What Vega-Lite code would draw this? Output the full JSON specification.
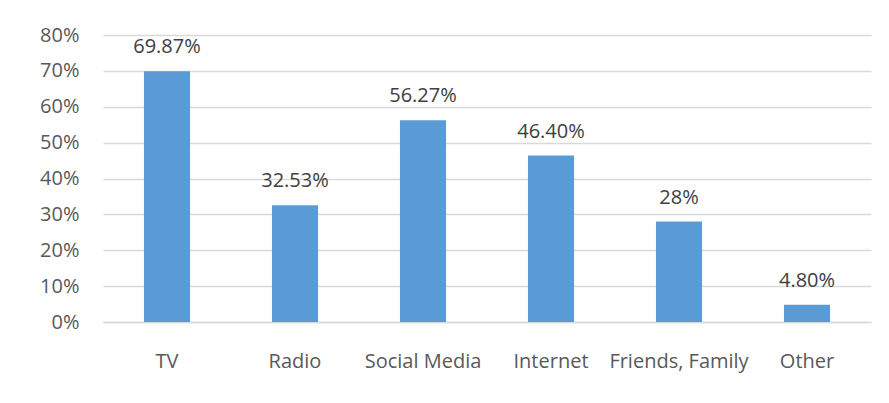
{
  "$schema": "https://vega.github.io/schema/vega-lite/v6.json",
  "width": 768,
  "height": 287,
  "autosize": {"type": "none"},
  "padding": {"left": 103, "top": 35, "right": 18, "bottom": 81},
  "background": "white",
  "data": {"values": [
    {"source": "TV", "value": 0.6987, "label": "69.87%"},
    {"source": "Radio", "value": 0.3253, "label": "32.53%"},
    {"source": "Social Media", "value": 0.5627, "label": "56.27%"},
    {"source": "Internet", "value": 0.464, "label": "46.40%"},
    {"source": "Friends, Family", "value": 0.28, "label": "28%"},
    {"source": "Other", "value": 0.048, "label": "4.80%"}
  ]},
  "encoding": {
    "x": {"field": "source", "type": "nominal", "sort": null,
      "scale": {"paddingInner": 0.64, "paddingOuter": 0.32},
      "axis": {"title": null, "labelAngle": 0, "ticks": false, "domainColor": "#D9D9D9", "domainWidth": 1.5,
        "labelFont": "Open Sans", "labelFontSize": 20, "labelColor": "#595959", "labelPadding": 29}},
    "y": {"field": "value", "type": "quantitative",
      "scale": {"domain": [0, 0.8]},
      "axis": {"title": null, "format": ".0%", "values": [0, 0.1, 0.2, 0.3, 0.4, 0.5, 0.6, 0.7, 0.8],
        "domain": false, "ticks": false, "gridColor": "#D9D9D9", "gridWidth": 1.5,
        "labelFont": "Open Sans", "labelFontSize": 20, "labelColor": "#595959", "labelPadding": 24}}
  },
  "layer": [
    {"mark": {"type": "bar", "color": "#5B9BD5"}},
    {"mark": {"type": "text", "baseline": "alphabetic", "dy": -18, "font": "Open Sans", "fontSize": 20, "color": "#404040"},
      "encoding": {"text": {"field": "label"}}}
  ],
  "config": {"view": {"stroke": null}}
}
